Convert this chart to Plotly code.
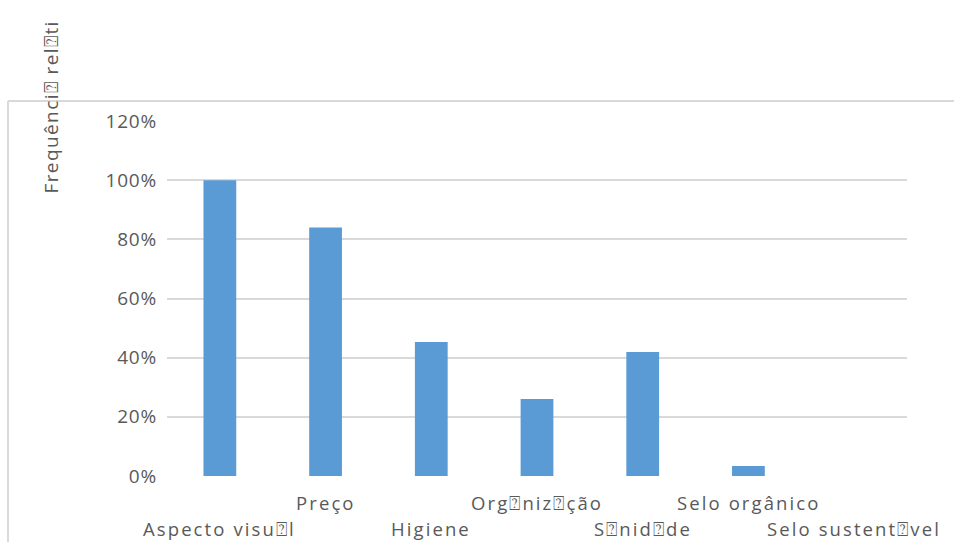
import plotly.graph_objects as go

# Categories and relative frequencies (fractions of respondents)
categorias = ["Aspecto visu⍰l", "Preço", "Higiene", "Org⍰niz⍰ção",
              "S⍰nid⍰de", "Selo orgânico", "Selo sustent⍰vel"]
frequencias = [1.00, 0.84, 0.453, 0.26, 0.419, 0.034, 0.0]
y_ticks = [0, 0.2, 0.4, 0.6, 0.8, 1.0, 1.2]
y_tick_text = ["0%", "20%", "40%", "60%", "80%", "100%", "120%"]
titulo_y = "Frequênci⍰ rel⍰ti"

W, H = 954, 542
# plot area in pixels
L, R, T, B = 167, 907, 121, 476
FONT = "Open Sans, DejaVu Sans, sans-serif"
GRAY_TXT = "#595959"
GRAY_LINE = "#d9d9d9"


def px_x(px):
    return (px - L) / (R - L)


def px_y(py):
    return (B - py) / (B - T)


def spaced(text, px):
    return f'<span style="letter-spacing:{px}px">{text}</span>'


fig = go.Figure()
fig.add_trace(go.Bar(
    x=list(range(len(categorias))),
    y=frequencias,
    marker=dict(color="#5b9bd5", line=dict(width=0)),
    hoverinfo="skip",
))

# Staggered category labels below the axis (two rows)
annotations = []
for i, lab in enumerate(categorias):
    annotations.append(dict(
        x=i, xref="x", y=px_y(528 if i % 2 == 0 else 503), yref="paper",
        text=spaced(lab, 2.1), showarrow=False, xanchor="center", yanchor="middle",
        font=dict(family=FONT, size=18.5, color=GRAY_TXT),
    ))

# Rotated y-axis title
annotations.append(dict(
    x=px_x(50), xref="paper", y=px_y(196), yref="paper",
    text=spaced(titulo_y, 1.4), textangle=-90, showarrow=False,
    xanchor="center", yanchor="bottom",
    font=dict(family=FONT, size=19, color=GRAY_TXT),
))

shapes = [
    dict(type="line", xref="paper", yref="paper",
         x0=px_x(8), x1=px_x(W), y0=px_y(101), y1=px_y(101),
         line=dict(color=GRAY_LINE, width=2)),
    dict(type="line", xref="paper", yref="paper",
         x0=px_x(8), x1=px_x(8), y0=px_y(101), y1=px_y(H),
         line=dict(color=GRAY_LINE, width=2)),
]

fig.update_layout(
    width=W, height=H,
    margin=dict(l=L, r=W - R, t=T, b=H - B, autoexpand=False),
    paper_bgcolor="white", plot_bgcolor="white",
    showlegend=False,
    bargap=0.69,
    xaxis=dict(range=[-0.5, len(categorias) - 0.5],
               showticklabels=False, showgrid=False, zeroline=False,
               showline=False, ticks=""),
    yaxis=dict(range=[0, 1.2],
               tickvals=y_ticks, ticktext=[spaced(t, 0.8) for t in y_tick_text],
               showgrid=True, gridcolor=GRAY_LINE, gridwidth=2,
               zeroline=False, showline=False, ticks="",
               ticklabelstandoff=9,
               tickfont=dict(family=FONT, size=19, color=GRAY_TXT)),
    annotations=annotations,
    shapes=shapes,
)

fig.write_html("out.html")
